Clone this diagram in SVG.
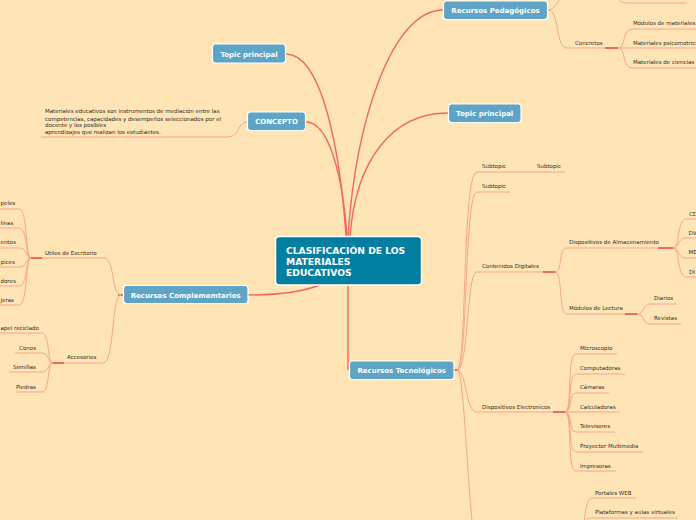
<svg xmlns="http://www.w3.org/2000/svg" width="696" height="520" viewBox="0 0 696 520">
<style>
.bg{fill:#FFE5B5}
.topic rect{fill:#5DA4C7;stroke:#fff;stroke-width:1.2}
.topic text{font-family:"DejaVu Sans",sans-serif;font-weight:bold;font-size:7px;fill:#fff;text-anchor:middle}
.central rect{fill:#027E9E;stroke:#fff;stroke-width:1.5}
.central text{font-family:"DejaVu Sans",sans-serif;font-weight:bold;font-size:9.2px;fill:#fff}
.lbl{font-family:"DejaVu Sans",sans-serif;font-size:5.5px;fill:#2f2b27}
.end{text-anchor:end}
.main{fill:none;stroke:#EF6A5E;stroke-width:1.4}
.sub{fill:none;stroke:#F6A48D;stroke-width:1}
.knot{fill:none;stroke:#EE6A60;stroke-width:2}
</style>
<rect class="bg" x="0" y="0" width="696" height="520"/>

<g id="connectors">
  <path class="main" d="M443,10 C392,10 356,120 348,236"/>
  <path class="main" d="M286,54 C322,54 340,150 346,236"/>
  <path class="main" d="M306,122 C330,122 343,180 347,236"/>
  <path class="main" d="M448,113 C392,113 356,160 350,236"/>
  <path class="main" d="M248,295 C282,295 302,292 320,285"/>
  <path class="main" d="M348,285 L348,370"/>

  <path class="sub" d="M247,122 C237,122 240,137 228,137 H41"/>

  <path class="sub" d="M548,10 C558,10 560,-10 572,-10"/>
  <path class="sub" d="M616,-6 C620,3 622,3 630,3 H687"/>
  <path class="sub" d="M548,10 C560,10 555,48 567,48 H615"/>
  <path class="knot" d="M605,48 H618"/>
  <path class="sub" d="M618,48 C626,48 622,29 632,29 H696"/>
  <path class="sub" d="M618,48 H696"/>
  <path class="sub" d="M618,48 C626,48 622,68 632,68 H696"/>

  <path class="knot" d="M454,370 H459"/>
  <path class="sub" d="M457,370 C467,370 462,172 477,172 H565"/>
  <path class="sub" d="M457,370 C468,370 464,192 477,192 H510"/>
  <path class="sub" d="M457,370 C469,370 466,272 477,272 H553"/>
  <path class="sub" d="M457,370 C467,370 465,412 477,412 H553"/>
  <path class="sub" d="M457,370 C464,370 466,470 474,540"/>

  <path class="knot" d="M543,272 H556"/>
  <path class="sub" d="M555,272 C563,272 558,248 567,248 H660"/>
  <path class="knot" d="M658,248 H673"/>
  <path class="sub" d="M555,272 C563,272 558,314 567,314 H627"/>
  <path class="knot" d="M625,314 H637"/>

  <path class="sub" d="M673,248 C680,248 677,219 686,219 H696"/>
  <path class="sub" d="M673,248 C680,248 677,238 686,238 H696"/>
  <path class="sub" d="M673,248 C680,248 677,258 686,258 H696"/>
  <path class="sub" d="M673,248 C680,248 677,277 686,277 H696"/>

  <path class="sub" d="M637,314 C645,314 642,304 650,304 H677"/>
  <path class="sub" d="M637,314 C645,314 642,324 650,324 H681"/>

  <path class="knot" d="M553,412 H566"/>
  <path class="sub" d="M565,412 C573,412 566,354 576,354 H617"/>
  <path class="sub" d="M565,412 C573,412 567,374 576,374 H625"/>
  <path class="sub" d="M565,412 C573,412 568,393 576,393 H609"/>
  <path class="sub" d="M565,412 H620"/>
  <path class="sub" d="M565,412 C573,412 568,432 576,432 H615"/>
  <path class="sub" d="M565,412 C573,412 567,452 576,452 H643"/>
  <path class="sub" d="M565,412 C573,412 566,471 576,471 H616"/>

  <path class="sub" d="M578,545 C586,545 582,498 592,498 H636"/>
  <path class="sub" d="M578,545 C585,545 581,518 590,518 H678"/>

  <path class="knot" d="M118,295 H123"/>
  <path class="sub" d="M121,295 C111,295 115,258 104,258 H41"/>
  <path class="knot" d="M30,258 H42"/>
  <path class="sub" d="M121,295 C111,295 115,363 103,363 H63"/>
  <path class="knot" d="M52,363 H64"/>

  <path class="sub" d="M31,258 C25,258 28,209 19,209 H-2"/>
  <path class="sub" d="M31,258 C25,258 28,228 19,228 H-2"/>
  <path class="sub" d="M31,258 C25,258 28,248 19,248 H-2"/>
  <path class="sub" d="M31,258 C25,258 28,267 19,267 H-2"/>
  <path class="sub" d="M31,258 C25,258 28,286 19,286 H-2"/>
  <path class="sub" d="M31,258 C25,258 28,305 19,305 H-2"/>

  <path class="sub" d="M53,363 C47,363 50,333 42,333 H-2"/>
  <path class="sub" d="M53,363 C47,363 50,353 42,353 H15"/>
  <path class="sub" d="M53,363 C47,363 50,372 42,372 H9"/>
  <path class="sub" d="M53,363 C47,363 50,392 42,392 H15"/>
</g>

<g id="central" class="central">
  <rect x="275.5" y="236.5" width="146" height="48.5" rx="4"/>
  <text x="286" y="253.5">CLASIFICACIÓN DE LOS</text>
  <text x="286" y="264.5">MATERIALES</text>
  <text x="286" y="275.5">EDUCATIVOS</text>
</g>

<g id="recursos-pedagogicos" class="topic">
  <rect x="443.5" y="1" width="104" height="18.5" rx="3"/>
  <text x="495.5" y="13">Recursos Pedagógicos</text>
</g>
<g id="topic-principal-1" class="topic">
  <rect x="212.5" y="44" width="73" height="19" rx="3"/>
  <text x="249" y="56.5">Topic principal</text>
</g>
<g id="concepto" class="topic">
  <rect x="247.5" y="112" width="58" height="18.5" rx="3"/>
  <text x="276.5" y="124">CONCEPTO</text>
</g>
<g id="topic-principal-2" class="topic">
  <rect x="448.5" y="104" width="72.5" height="18.5" rx="3"/>
  <text x="484.7" y="116">Topic principal</text>
</g>
<g id="recursos-complementarios" class="topic">
  <rect x="123.5" y="285.5" width="124.5" height="18" rx="3"/>
  <text x="185.7" y="297.5">Recursos Complememtarios</text>
</g>
<g id="recursos-tecnologicos" class="topic">
  <rect x="349.5" y="361" width="104.5" height="18.5" rx="3"/>
  <text x="401.7" y="373">Recursos Tecnológicos</text>
</g>

<g id="concepto-text">
  <text class="lbl" x="45" y="113">Materiales educativos son instrumentos de mediación entre las</text>
  <text class="lbl" x="45" y="121">competencias, capacidades y desempeños seleccionados por el</text>
  <text class="lbl" x="45" y="126.5">docente y los posibles</text>
  <text class="lbl" x="45" y="133.5">aprendizajes que realizan los estudiantes.</text>
</g>

<g id="concretos"><text class="lbl" x="575" y="45">Concretos</text></g>
<g id="modulos-materiales"><text class="lbl" x="633" y="25">Módulos de materiales</text></g>
<g id="materiales-psicomotrici"><text class="lbl" x="633" y="44.5">Materiales psicomotrici</text></g>
<g id="materiales-ciencias"><text class="lbl" x="633" y="64">Materiales de ciencias</text></g>

<g id="subtopic-1"><text class="lbl" x="482" y="168">Subtopic</text></g>
<g id="subtopic-1-1"><text class="lbl" x="537" y="168">Subtopic</text></g>
<g id="subtopic-2"><text class="lbl" x="482" y="188">Subtopic</text></g>
<g id="contenidos-digitales"><text class="lbl" x="482" y="267.5">Contenidos Digitales</text></g>
<g id="dispositivos-almacenamiento"><text class="lbl" x="569" y="244">Dispositivos de Almacenamiento</text></g>
<g id="cd"><text class="lbl" x="689" y="215.5">CD</text></g>
<g id="dv"><text class="lbl" x="688.5" y="234.5">DV</text></g>
<g id="me"><text class="lbl" x="688.5" y="254">ME</text></g>
<g id="di"><text class="lbl" x="689" y="273.5">DI</text></g>
<g id="modulos-lectura"><text class="lbl" x="569" y="310">Módulos de Lectura</text></g>
<g id="diarios"><text class="lbl" x="654" y="300">Diarios</text></g>
<g id="revistas"><text class="lbl" x="654" y="320">Revistas</text></g>

<g id="dispositivos-electronicos"><text class="lbl" x="482" y="409">Dispositivos Electronicos</text></g>
<g id="microscopio"><text class="lbl" x="580" y="350">Microscopio</text></g>
<g id="computadoras"><text class="lbl" x="580" y="370">Computadoras</text></g>
<g id="camaras"><text class="lbl" x="580" y="389">Cámaras</text></g>
<g id="calculadoras"><text class="lbl" x="580" y="409">Calculadoras</text></g>
<g id="televisores"><text class="lbl" x="580" y="428">Televisores</text></g>
<g id="proyector"><text class="lbl" x="580" y="448">Proyector Multimedia</text></g>
<g id="impresoras"><text class="lbl" x="580" y="467.5">Impresoras</text></g>
<g id="portales-web"><text class="lbl" x="595" y="494.5">Portales WEB</text></g>
<g id="plataformas"><text class="lbl" x="595" y="514">Plataformas y aulas virtuales</text></g>

<g id="utiles-escritorio"><text class="lbl" x="45" y="254.5">Útiles de Escritorio</text></g>
<g id="papeles"><text class="lbl" x="0.5" y="205">peles</text></g>
<g id="linas"><text class="lbl" x="0.5" y="224.5">linas</text></g>
<g id="entos"><text class="lbl" x="0.5" y="244">entos</text></g>
<g id="pices"><text class="lbl" x="0.5" y="263.5">pices</text></g>
<g id="dores"><text class="lbl" x="0.5" y="283">dores</text></g>
<g id="jeras"><text class="lbl" x="0.5" y="302">jeras</text></g>

<g id="accesorios"><text class="lbl" x="67" y="359">Accesorios</text></g>
<g id="papel-reciclado"><text class="lbl" x="0.5" y="329.5">apel reciclado</text></g>
<g id="conos"><text class="lbl end" x="36" y="349.5">Conos</text></g>
<g id="semillas"><text class="lbl end" x="36" y="369">Semillas</text></g>
<g id="piedras"><text class="lbl end" x="36" y="388.5">Piedras</text></g>
</svg>
